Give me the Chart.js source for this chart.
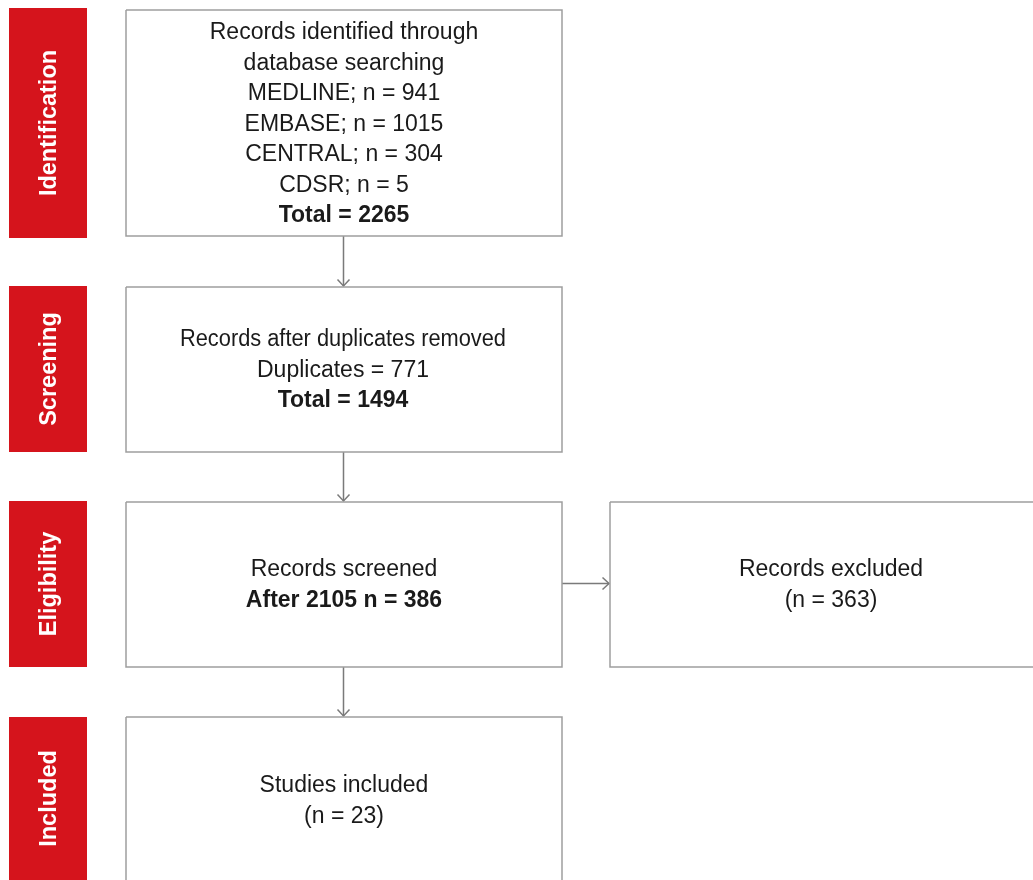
<!DOCTYPE html>
<html>
<head>
<meta charset="utf-8">
<script src="https://cdn.jsdelivr.net/npm/chart.js@4/dist/chart.umd.min.js"></script>
<style>
  html, body { margin: 0; padding: 0; background: #ffffff; }
  #wrap { width: 1033px; height: 880px; position: relative; }
</style>
</head>
<body>
<div id="wrap"><canvas id="c"></canvas></div>
<script>
// ---- data ----
const stages = ['Identification', 'Screening', 'Eligibility', 'Included'];
const databases = ['MEDLINE', 'EMBASE', 'CENTRAL', 'CDSR'];
const databaseCounts = [941, 1015, 304, 5];
const identifiedTotal = 2265;
const duplicatesRemoved = 771;
const afterDuplicatesTotal = 1494;
const screenedAfter = 2105;
const screenedN = 386;
const excludedN = 363;
const includedN = 23;

// ---- box texts built from data ----
const boxTexts = [
  [
    { t: 'Records identified through' },
    { t: 'database searching' },
    ...databases.map((d, i) => ({ t: d + '; n = ' + databaseCounts[i] })),
    { t: 'Total = ' + identifiedTotal, b: true }
  ],
  [
    { t: 'Records after duplicates removed' },
    { t: 'Duplicates = ' + duplicatesRemoved },
    { t: 'Total = ' + afterDuplicatesTotal, b: true }
  ],
  [
    { t: 'Records screened' },
    { t: 'After ' + screenedAfter + ' n = ' + screenedN, b: true }
  ],
  [
    { t: 'Records excluded' },
    { t: '(n = ' + excludedN + ')' }
  ],
  [
    { t: 'Studies included' },
    { t: '(n = ' + includedN + ')' }
  ]
];

// ---- layout (in axis units = pixels) ----
const stageRects = [
  { x0: 9, x1: 87, y0: 8, y1: 238 },
  { x0: 9, x1: 87, y0: 286, y1: 452 },
  { x0: 9, x1: 87, y0: 501, y1: 667 },
  { x0: 9, x1: 87, y0: 717, y1: 884 }
];
const boxes = [
  { x0: 126, x1: 562, y0: 10, y1: 236, cx: 344, cy: 123, maxW: 400 },
  { x0: 126, x1: 562, y0: 287, y1: 452, cx: 343, cy: 369, maxW: 326 },
  { x0: 126, x1: 562, y0: 502, y1: 667, cx: 344, cy: 584, maxW: 400 },
  { x0: 610, x1: 1050, y0: 502, y1: 667, cx: 831, cy: 584, maxW: 400 },
  { x0: 126, x1: 562, y0: 717, y1: 884, cx: 344, cy: 800, maxW: 400 }
];
const arrows = [
  { x0: 343.5, y0: 236, x1: 343.5, y1: 286, dir: 'down' },
  { x0: 343.5, y0: 452, x1: 343.5, y1: 501, dir: 'down' },
  { x0: 343.5, y0: 667, x1: 343.5, y1: 716, dir: 'down' },
  { x0: 562, y0: 583.5, x1: 609, y1: 583.5, dir: 'right' }
];

const RED = '#d5141c';
const BORDER = '#9e9e9e';
const ARROW = '#7a7a7a';
const TEXT = '#1a1a1a';
const FONT = 'Arial, "Liberation Sans", Helvetica, sans-serif';

function rectPts(r) {
  return [
    { x: r.x0, y: r.y0 }, { x: r.x1, y: r.y0 },
    { x: r.x1, y: r.y1 }, { x: r.x0, y: r.y1 }, { x: r.x0, y: r.y0 }
  ];
}

const datasets = [];
stageRects.forEach((r, i) => {
  datasets.push({
    label: stages[i],
    data: rectPts(r),
    showLine: true,
    borderWidth: 0,
    borderColor: RED,
    backgroundColor: RED,
    fill: 'shape',
    pointRadius: 0,
    tension: 0,
    clip: false
  });
});
boxes.forEach((r, i) => {
  datasets.push({
    label: 'box' + i,
    data: rectPts(r),
    showLine: true,
    borderWidth: 1.5,
    borderColor: BORDER,
    backgroundColor: 'rgba(0,0,0,0)',
    fill: false,
    pointRadius: 0,
    tension: 0
  });
});
arrows.forEach((a, i) => {
  datasets.push({
    label: 'arrow' + i,
    data: [{ x: a.x0, y: a.y0 }, { x: a.x1, y: a.y1 }],
    showLine: true,
    borderWidth: 1.5,
    borderColor: ARROW,
    fill: false,
    pointRadius: 0
  });
  const head = a.dir === 'down'
    ? [{ x: a.x1 - 6, y: a.y1 - 6.5 }, { x: a.x1, y: a.y1 }, { x: a.x1 + 6, y: a.y1 - 6.5 }]
    : [{ x: a.x1 - 6.5, y: a.y1 - 6 }, { x: a.x1, y: a.y1 }, { x: a.x1 - 6.5, y: a.y1 + 6 }];
  datasets.push({
    label: 'head' + i,
    data: head,
    showLine: true,
    borderWidth: 1.5,
    borderColor: ARROW,
    fill: false,
    pointRadius: 0,
    tension: 0
  });
});

const textPlugin = {
  id: 'flowText',
  afterDatasetsDraw(chart) {
    const ctx = chart.ctx;
    const xs = chart.scales.x, ys = chart.scales.y;
    ctx.save();
    // stage labels
    ctx.fillStyle = '#ffffff';
    ctx.font = 'bold 23.5px ' + FONT;
    ctx.textAlign = 'center';
    ctx.textBaseline = 'alphabetic';
    stageRects.forEach((r, i) => {
      const cx = xs.getPixelForValue((r.x0 + r.x1) / 2 + 8);
      const yEnd = Math.min(r.y1, 880);
      const cy = ys.getPixelForValue((r.y0 + yEnd) / 2);
      ctx.save();
      ctx.translate(cx, cy);
      ctx.rotate(-Math.PI / 2);
      ctx.fillText(stages[i], 0, 0);
      ctx.restore();
    });
    // box texts
    ctx.fillStyle = TEXT;
    const lh = 30.5;
    boxes.forEach((b, i) => {
      const lines = boxTexts[i];
      const n = lines.length;
      lines.forEach((ln, j) => {
        ctx.font = (ln.b ? 'bold ' : '') + '23px ' + FONT;
        const yv = b.cy + 7.5 + (j - (n - 1) / 2) * lh;
        ctx.fillText(ln.t, xs.getPixelForValue(b.cx), ys.getPixelForValue(yv), b.maxW);
      });
    });
    ctx.restore();
  }
};

new Chart(document.getElementById('c'), {
  type: 'scatter',
  data: { datasets },
  options: {
    responsive: true,
    maintainAspectRatio: false,
    animation: false,
    layout: { padding: 0 },
    plugins: { legend: { display: false }, tooltip: { enabled: false } },
    elements: { line: { tension: 0 } },
    scales: {
      x: { type: 'linear', min: 0, max: 1033, display: false },
      y: { type: 'linear', min: 0, max: 880, reverse: true, display: false }
    }
  },
  plugins: [textPlugin]
});
</script>
</body>
</html>
